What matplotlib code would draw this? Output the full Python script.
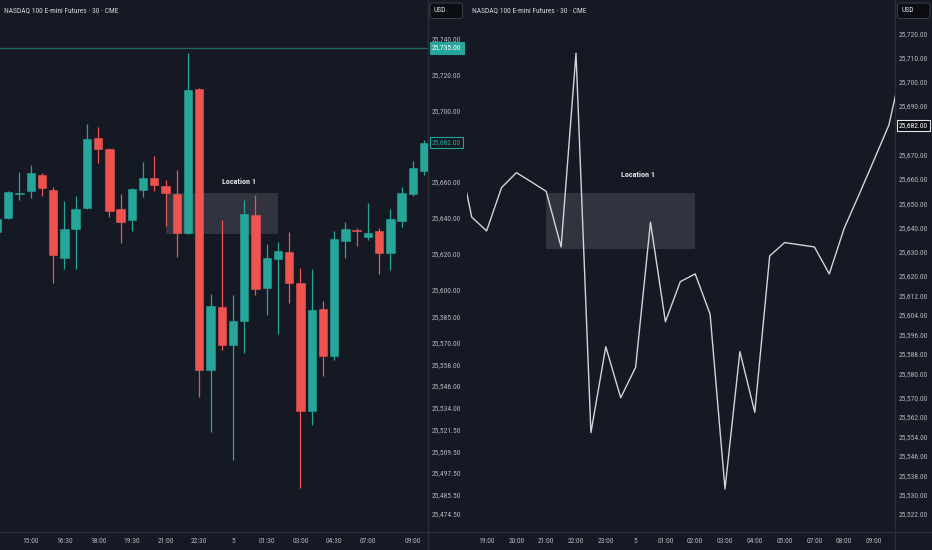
import matplotlib
matplotlib.use('Agg')
import matplotlib.pyplot as plt
from matplotlib import font_manager
import matplotlib.transforms as mtrans
from matplotlib.lines import Line2D
from matplotlib.patches import FancyBboxPatch

# ---------------- data ----------------
title = "NASDAQ 100 E-mini Futures · 30 · CME"

# left panel: 30-min candles
opens = [25632.3, 25639.7, 25653.2, 25654.9, 25664.1, 25655.8, 25617.4, 25633.8, 25645.7, 25684.8,
         25678.5, 25644.8, 25638.7, 25655.6, 25662.3, 25657.7, 25653.4, 25631.4, 25711.9, 25555.0,
         25590.4, 25569.0, 25582.4, 25641.6, 25600.6, 25617.0, 25621.2, 25603.8, 25532.1, 25589.1,
         25563.0, 25627.1, 25633.2, 25629.2, 25632.8, 25620.2, 25638.4, 25653.4, 25666.4]
highs = [25640.5, 25655.0, 25665.7, 25669.6, 25664.9, 25657.1, 25649.6, 25652.2, 25692.3, 25691.0,
         25679.0, 25653.2, 25656.5, 25671.2, 25674.6, 25661.2, 25666.8, 25732.0, 25712.8, 25597.5,
         25638.8, 25596.9, 25650.0, 25652.8, 25625.4, 25626.7, 25632.1, 25611.8, 25611.3, 25593.6,
         25632.7, 25637.9, 25634.5, 25648.5, 25634.2, 25644.8, 25657.4, 25672.0, 25683.5]
lows = [25631.0, 25639.2, 25650.0, 25651.3, 25652.2, 25603.4, 25611.4, 25611.4, 25645.0, 25670.5,
        25640.3, 25626.1, 25632.7, 25651.5, 25655.2, 25635.5, 25618.3, 25631.0, 25540.1, 25520.5,
        25566.2, 25504.7, 25564.3, 25596.9, 25585.7, 25574.9, 25592.3, 25488.9, 25524.2, 25551.8,
        25560.6, 25617.4, 25624.3, 25627.6, 25608.5, 25610.9, 25635.1, 25652.4, 25664.0]
closes = [25639.2, 25654.5, 25654.1, 25664.9, 25656.5, 25619.3, 25633.8, 25645.0, 25683.9, 25678.5,
          25643.7, 25637.5, 25656.0, 25662.1, 25658.4, 25654.1, 25631.4, 25711.5, 25555.0, 25590.9,
          25569.0, 25582.4, 25642.0, 25600.3, 25617.4, 25621.3, 25603.4, 25532.1, 25588.5, 25563.0,
          25628.0, 25633.6, 25632.5, 25631.7, 25620.5, 25639.4, 25653.8, 25668.1, 25682.0]
left_time_idx = [3, 6, 9, 12, 15, 18, 21, 24, 27, 30, 33, 37]
left_time_labels = ['15:00', '16:30', '18:00', '19:30', '21:00', '22:30', '5',
                    '01:30', '03:00', '04:30', '07:00', '09:00']
left_price_ticks = [25740, 25720, 25700, 25660, 25640, 25620, 25600, 25585, 25570, 25558,
                    25546, 25534, 25521.5, 25509.5, 25497.5, 25485.5, 25474.5]
left_last_price = 25682.0
left_line_price = 25735.0
left_zone = (15, 25, 25631.2, 25653.8)   # x0, x1, y0, y1
left_zone_label = (21.56, 25660.5)

# right panel: close-price line
right_idx = list(range(-1, 30))
right_vals = [25674.0, 25644.3, 25638.6, 25656.4, 25662.6, 25658.8, 25654.9, 25632.0, 25711.8, 25555.5,
              25590.9, 25569.9, 25582.4, 25642.2, 25601.2, 25617.7, 25620.9, 25604.3, 25532.3, 25588.9,
              25563.9, 25628.3, 25633.8, 25632.9, 25632.0, 25620.9, 25639.7, 25653.6, 25667.8, 25682.2,
              25709.7]
right_time_idx = [1, 3, 5, 7, 9, 11, 13, 15, 17, 19, 21, 23, 25, 27]
right_time_labels = ['19:00', '20:00', '21:00', '22:00', '23:00', '5', '01:00', '02:00',
                     '03:00', '04:00', '05:00', '07:00', '08:00', '09:00']
right_price_ticks = [25720, 25710, 25700, 25690, 25670, 25660, 25650, 25640, 25630, 25620,
                     25612, 25604, 25596, 25588, 25580, 25570, 25562, 25554, 25546, 25538,
                     25530, 25522]
right_last_price = 25682.0
right_zone = (5, 15, 25631.2, 25654.2)
right_zone_label = (11.18, 25661.8)

# ---------------- style ----------------
BG = '#151924'
UP = '#26a69a'
DN = '#ef5350'
TXT = '#b2b5be'
BORDER = '#2a2e39'
FS = 5.4

avail = {f.name for f in font_manager.fontManager.ttflist}
fam = 'DejaVu Sans'
for cand in ['Liberation Sans Narrow', 'Roboto Condensed', 'Open Sans Condensed', 'Roboto', 'Lato']:
    if cand in avail:
        fam = cand
        break
plt.rcParams['font.family'] = [fam, 'DejaVu Sans']

W, H = 932, 550
fig = plt.figure(figsize=(W / 100, H / 100), dpi=100, facecolor=BG)

def fx(px):
    return px / W

def fy(py):
    return 1 - py / H

ax1 = fig.add_axes([0, fy(532), fx(428), 532 / H])
ax2 = fig.add_axes([fx(466.7), fy(532), fx(895 - 466.7), 532 / H])

for ax in (ax1, ax2):
    ax.set_facecolor(BG)
    for s in ('top', 'left'):
        ax.spines[s].set_visible(False)
    for s in ('right', 'bottom'):
        ax.spines[s].set_color(BORDER)
        ax.spines[s].set_linewidth(1)
    ax.yaxis.tick_right()
    ax.tick_params(axis='both', length=0, colors=TXT, labelsize=FS)
    ax.tick_params(axis='y', pad=3)
    ax.tick_params(axis='x', pad=4.5)

# ---- left candles ----
n = len(opens)
xs = list(range(n))
body_bottom = [min(o, c) for o, c in zip(opens, closes)]
body_h = [max(abs(c - o), 0.3) for o, c in zip(opens, closes)]
cols = [UP if c >= o else DN for o, c in zip(opens, closes)]

x0, x1, y0, y1 = left_zone
ax1.add_patch(plt.Rectangle((x0, y0), x1 - x0, y1 - y0, facecolor='#9598a1', alpha=0.22,
                            edgecolor='none', zorder=1))
ax1.vlines(xs, lows, highs, colors=cols, linewidth=0.9, zorder=2)
ax1.bar(xs, body_h, bottom=body_bottom, width=0.74, color=cols, edgecolor=cols,
        linewidth=0.4, zorder=3)
ax1.axhline(left_line_price, color=UP, linewidth=0.9, alpha=0.55, zorder=1)
ax1.text(left_zone_label[0], left_zone_label[1], 'Location 1', color='#e0e3eb', fontsize=5.9,
         fontweight='bold', ha='center', va='center', zorder=4)

ax1.set_xlim(0.27, 38.35)
ax1.set_ylim(25464.4, 25761.8)
ax1.set_xticks(left_time_idx)
ax1.set_xticklabels(left_time_labels)
ax1.set_yticks(left_price_ticks)
ax1.set_yticklabels([f"{v:,.2f}" for v in left_price_ticks])

# ---- right line ----
x0, x1, y0, y1 = right_zone
ax2.add_patch(plt.Rectangle((x0, y0), x1 - x0, y1 - y0, facecolor='#9598a1', alpha=0.22,
                            edgecolor='none', zorder=1))
ax2.plot(right_idx, right_vals, color='#d1d4dc', linewidth=1.0, zorder=3)
ax2.text(right_zone_label[0], right_zone_label[1], 'Location 1', color='#e0e3eb', fontsize=5.9,
         fontweight='bold', ha='center', va='center', zorder=4)
ax2.set_xlim(-0.336, 28.41)
ax2.set_ylim(25514.6, 25733.7)
ax2.set_xticks(right_time_idx)
ax2.set_xticklabels(right_time_labels)
ax2.set_yticks(right_price_ticks)
ax2.set_yticklabels([f"{v:,.2f}" for v in right_price_ticks])

# ---- price tags on the scales ----
def tag(ax, price, fc, ec, tc):
    tr = mtrans.blended_transform_factory(ax.transAxes, ax.transData)
    tr = mtrans.offset_copy(tr, fig=fig, x=4, y=0, units='dots')
    ax.text(1.0, price, f"{price:,.2f}", transform=tr, ha='left', va='center',
            fontsize=FS, color=tc, clip_on=False, zorder=10,
            bbox=dict(boxstyle='square,pad=0.3', facecolor=fc, edgecolor=ec, linewidth=0.8))

tag(ax1, left_line_price, UP, UP, '#ffffff')
tag(ax1, left_last_price, BG, UP, UP)
tag(ax2, right_last_price, '#0b0d12', '#e0e3eb', '#ffffff')

# ---- titles, currency boxes, separators ----
fig.text(fx(4), fy(10.5), title, color='#d1d4dc', fontsize=FS, ha='left', va='center')
fig.text(fx(472), fy(10.5), title, color='#d1d4dc', fontsize=FS, ha='left', va='center')
ident = mtrans.IdentityTransform()
for xp in (430, 897.5):
    fig.add_artist(FancyBboxPatch((xp, H - 18.5), 32.5, 15.5, boxstyle='round,pad=0,rounding_size=2.5',
                                  transform=ident, facecolor='#0b0d12', edgecolor='#363a45',
                                  linewidth=0.8))
    fig.text(fx(xp + 4), fy(10.8), 'USD', color='#e0e3eb', fontsize=FS, ha='left', va='center')
fig.add_artist(Line2D([fx(428), fx(466.7)], [fy(532), fy(532)], color=BORDER, linewidth=1))
fig.add_artist(Line2D([fx(895), 1], [fy(532), fy(532)], color=BORDER, linewidth=1))
for xp in (428, 895):
    fig.add_artist(Line2D([fx(xp), fx(xp)], [0, fy(532)], color=BORDER, linewidth=1))

fig.savefig('out.png', dpi=100, facecolor=BG)
